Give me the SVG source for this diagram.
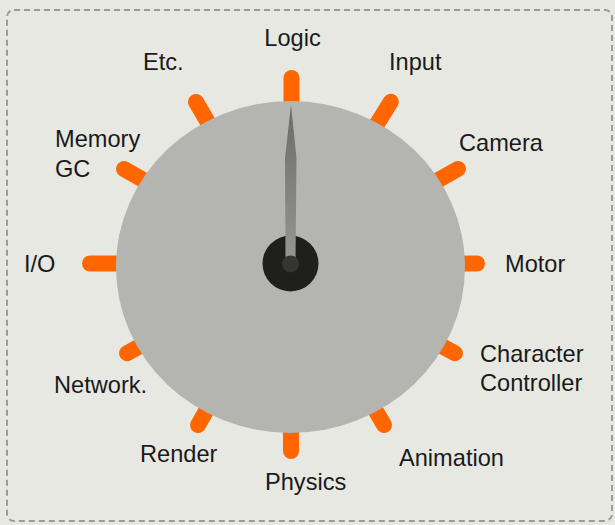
<svg xmlns="http://www.w3.org/2000/svg" width="615" height="525" viewBox="0 0 615 525">
<defs>
<style>
.lbl{font-family:"Liberation Sans",Arial,sans-serif;font-size:23.6px;fill:#1a1a1a}
.tick{stroke:#ff6600;stroke-width:16;stroke-linecap:round;fill:none}
</style>
<linearGradient id="ng" x1="0" y1="0" x2="0" y2="1">
<stop offset="0" stop-color="#6a6c68"/>
<stop offset="1" stop-color="#959793"/>
</linearGradient>
</defs>
<rect x="0" y="0" width="615" height="525" fill="#e8e8e3"/>
<rect x="7" y="10" width="605" height="511" rx="7" fill="none" stroke="#9a9a98" stroke-width="2" stroke-dasharray="6 4"/>
<g id="connectors">
<line class="tick" x1="291.5" y1="130" x2="291.5" y2="78"/>
<line class="tick" x1="364.3" y1="144.5" x2="390.8" y2="101.8"/>
<line class="tick" x1="412.4" y1="194.7" x2="458" y2="168.9"/>
<line class="tick" x1="430.5" y1="263.5" x2="477" y2="263.5"/>
<line class="tick" x1="413.4" y1="330.6" x2="455" y2="353.2"/>
<line class="tick" x1="360.6" y1="384.6" x2="384" y2="425.1"/>
<line class="tick" x1="291" y1="403.5" x2="291" y2="451"/>
<line class="tick" x1="220.9" y1="385" x2="198" y2="425.1"/>
<line class="tick" x1="167.7" y1="330.8" x2="127" y2="353.2"/>
<line class="tick" x1="150.5" y1="263.5" x2="90" y2="263.5"/>
<line class="tick" x1="168.7" y1="194.4" x2="124" y2="169"/>
<line class="tick" x1="219.8" y1="142.7" x2="196" y2="101.9"/>
</g>
<g id="dial">
<ellipse cx="290.5" cy="267" rx="174.5" ry="166" fill="#b4b4b0"/>
<circle cx="290.5" cy="263.5" r="28" fill="#1f1f1d"/>
<polygon points="291,105 296.5,158 295.5,262 285.5,262 285,158" fill="url(#ng)"/>
<circle cx="290.5" cy="264" r="8.5" fill="#353533"/>
</g>
<g id="logic"><text class="lbl" x="292.5" y="46" text-anchor="middle">Logic</text></g>
<g id="input"><text class="lbl" x="389" y="70">Input</text></g>
<g id="camera"><text class="lbl" x="459" y="151">Camera</text></g>
<g id="motor"><text class="lbl" x="505" y="272">Motor</text></g>
<g id="character-controller"><text class="lbl" x="480" y="362">Character</text><text class="lbl" x="480" y="391">Controller</text></g>
<g id="animation"><text class="lbl" x="399" y="466">Animation</text></g>
<g id="physics"><text class="lbl" x="265" y="490">Physics</text></g>
<g id="render"><text class="lbl" x="140" y="462">Render</text></g>
<g id="network"><text class="lbl" x="54" y="393">Network.</text></g>
<g id="io"><text class="lbl" x="24" y="272">I/O</text></g>
<g id="memory-gc"><text class="lbl" x="55" y="147">Memory</text><text class="lbl" x="55" y="177">GC</text></g>
<g id="etc"><text class="lbl" x="143" y="70">Etc.</text></g>
</svg>
